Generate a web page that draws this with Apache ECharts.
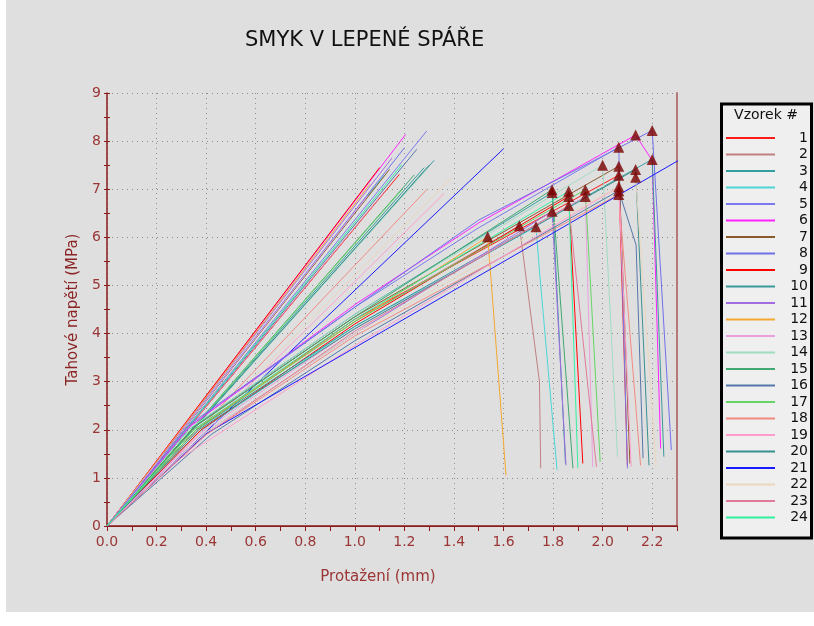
<!DOCTYPE html>
<html>
<head>
<meta charset="utf-8">
<script src="https://cdn.jsdelivr.net/npm/echarts@6/dist/echarts.min.js"></script>
<style>
  html, body { margin: 0; padding: 0; background: #fff; }
  #chart { width: 814px; height: 626px; }
</style>
</head>
<body>
<div id="chart"></div>
<script>
// samples 1..24
const sampleNames = ['1', '2', '3', '4', '5', '6', '7', '8', '9', '10', '11', '12',
  '13', '14', '15', '16', '17', '18', '19', '20', '21', '22', '23', '24'];
const sampleColors = ['#ff1a1a', '#c08080', '#339e9e', '#4cd6d6', '#7a7aee', '#ff22ff',
  '#8b5a2b', '#7070ea', '#ff0000', '#3a9a9a', '#a06ce0', '#f4a830',
  '#e9a0dd', '#a0dcc0', '#40a870', '#5577aa', '#66d466', '#f28a80',
  '#ff9ccc', '#3a8f8f', '#1a1aff', '#ead6bc', '#e07a98', '#33f0a0'];

// steep curves: straight from origin to last point
const steepEndX = [1.18, 1.08, 1.28, 1.12, 1.29, 1.205, 1.14, 1.2, 1.1, 1.32, 1.15, 1.06,
  1.05, 1.29, 1.24, 1.25, 1.19, 1.29, 1.36, 1.3, 1.6, 1.39, 1.12, 1.19];
const steepEndY = [7.31, 7.05, 7.45, 7.3, 8.21, 8.14, 7.41, 7.86, 7.45, 7.6, 7.65, 7.1,
  6.85, 7.41, 7.3, 7.83, 6.99, 6.99, 6.91, 7.5, 7.84, 7.24, 6.95, 7.51];

// shear curves: knee, points at 1.0 / 1.5 mm, top point (peak), optional point after peak, end of drop
const kneeX = [0.36, 0.35, 0.33, 0.37, 0.34, 0.33, 0.35, 0.33, 0.38, 0.36, 0.4, 0.35,
  0.38, 0.34, 0.35, 0.42, 0.36, 0.4, 0.28, 0.37, 0.4, 0.4, 0.4, 0.35];
const kneeY = [2.0, 2.0, 2.0, 1.95, 2.1, 2.05, 2.05, 2.1, 2.0, 2.0, 1.95, 2.0,
  1.95, 2.05, 2.05, 1.9, 2.0, 1.9, 1.35, 2.0, 1.92, 1.95, 1.9, 2.0];
const at10Y = [4.3, 4.25, 4.4, 4.15, 4.55, 4.6, 4.35, 4.55, 4.2, 4.15, 4.0, 4.25,
  4.1, 4.4, 4.35, 3.85, 4.25, 3.95, 3.75, 4.1, null, 4.0, 4.05, 4.3];
const at15Y = [null, null, null, null, 6.2, 6.3, null, 6.36, null, null, null, null,
  null, null, null, null, null, null, null, null, null, null, null, null];
const topX = [2.065, 1.664, 1.796, 1.731, 2.065, 2.133, 2.065, 2.2, 1.863, 2.2, 1.796, 1.536,
  1.93, 2.0, 1.796, 2.065, 1.93, 2.065, 2.065, 2.133, 2.35, 2.133, 1.863, 1.863];
const topY = [7.29, 6.24, 6.93, 6.22, 7.875, 8.125, 7.48, 8.22, 6.85, 7.62, 6.54, 6.01,
  6.85, 7.5, 6.99, 6.97, 6.99, 6.89, 7.05, 7.41, 7.73, 7.25, 6.66, 6.96];
const afterX = [null, 1.745, null, 1.745, null, 2.2, null, null, null, null, null, 1.55,
  null, null, null, 2.135, null, null, null, null, null, null, null, null];
const afterY = [null, 3.0, null, 5.3, null, 7.6, null, null, null, null, null, 5.1,
  null, null, null, 5.84, null, null, null, null, null, null, null, null];
const endX = [2.1, 1.75, 1.85, 1.816, 2.1, 2.234, 2.11, 2.277, 1.92, 2.247, 1.852, 1.61,
  1.96, 2.06, 1.88, 2.163, 1.99, 2.153, 2.115, 2.187, null, 2.216, 1.975, 1.9];
const endY = [1.25, 1.2, 1.3, 1.16, 1.2, 1.61, 1.3, 1.58, 1.3, 1.44, 1.26, 1.05,
  1.23, 1.44, 1.2, 1.41, 1.33, 1.26, 1.23, 1.26, null, 1.23, 1.23, 1.2];

const axisRed = '#8b1a1a';
const labelRed = '#9b3535';

const series = [];
sampleNames.forEach((name, i) => {
  series.push({
    name: name,
    type: 'line',
    symbol: 'none',
    silent: true,
    data: [[0, 0], [steepEndX[i], steepEndY[i]]],
    lineStyle: { width: 1, color: sampleColors[i] },
    itemStyle: { color: sampleColors[i] },
  });
});
sampleNames.forEach((name, i) => {
  const pts = [[0, 0], [kneeX[i], kneeY[i]]];
  if (at10Y[i] !== null) pts.push([1.0, at10Y[i]]);
  if (at15Y[i] !== null) pts.push([1.5, at15Y[i]]);
  pts.push([topX[i], topY[i]]);
  if (afterX[i] !== null) pts.push([afterX[i], afterY[i]]);
  if (endX[i] !== null) pts.push([endX[i], endY[i]]);
  series.push({
    name: name,
    type: 'line',
    symbol: 'none',
    silent: true,
    data: pts,
    lineStyle: { width: 1, color: sampleColors[i] },
    itemStyle: { color: sampleColors[i] },
  });
});

// failure points (only samples that broke inside the plotted range)
const peaks = [];
sampleNames.forEach((name, i) => {
  if (endX[i] !== null) peaks.push([topX[i], topY[i]]);
});
series.push({
  name: 'max',
  type: 'scatter',
  symbol: 'triangle',
  symbolSize: 11,
  silent: true,
  z: 10,
  data: peaks,
  itemStyle: { color: '#7a0000' },
});

const chart = echarts.init(document.getElementById('chart'));
chart.setOption({
  animation: false,
  backgroundColor: '#ffffff',
  textStyle: { fontFamily: 'DejaVu Sans' },
  title: {
    text: 'SMYK V LEPENÉ SPÁŘE',
    left: 240,
    top: 25,
    textStyle: { fontSize: 21, fontWeight: 'normal', color: '#111', fontFamily: 'DejaVu Sans' },
  },
  grid: { left: 107, right: 137, top: 93, bottom: 100 },
  legend: {
    data: sampleNames,
    orient: 'vertical',
    left: 726,
    top: 131,
    padding: 0,
    icon: 'rect',
    itemWidth: 49,
    itemHeight: 2,
    itemGap: 2.5,
    selectedMode: false,
    formatter: (n) => '{n|' + n + '}',
    textStyle: {
      color: '#111',
      fontSize: 14,
      rich: { n: { width: 28, align: 'right', fontSize: 14, color: '#111' } },
    },
  },
  graphic: [
    { type: 'rect', z: -100, silent: true, shape: { x: 6, y: 0, width: 808, height: 612 }, style: { fill: '#dfdfdf' } },
    { type: 'rect', z: 1, silent: true, shape: { x: 721.5, y: 104, width: 90, height: 434 },
      style: { fill: '#efefef', stroke: '#000', lineWidth: 3 } },
    { type: 'text', z: 2, silent: true, x: 766, y: 115,
      style: { text: 'Vzorek #', fill: '#111', font: '14px DejaVu Sans', align: 'center', verticalAlign: 'middle' } },
  ],
  xAxis: [
    {
      type: 'value', min: 0, max: 2.3, interval: 0.2,
      name: 'Protažení (mm)', nameLocation: 'middle', nameGap: 44,
      nameTextStyle: { color: labelRed, fontSize: 15, padding: [0, 28, 0, 0] },
      axisLine: { show: true, lineStyle: { color: axisRed, width: 1.5 } },
      axisTick: { show: true, length: 5, lineStyle: { color: axisRed } },
      minorTick: { show: true, splitNumber: 2, length: 5, lineStyle: { color: axisRed } },
      splitLine: { show: true, lineStyle: { color: '#8c8c8c', type: [1, 4] } },
      axisLabel: { color: labelRed, fontSize: 14, margin: 9,
        formatter: (v) => (v > 2.25 ? '' : v.toFixed(1)) },
    },
    {
      type: 'value', position: 'top', min: 0, max: 2.3,
      axisLine: { show: true, lineStyle: { color: axisRed, width: 1 } },
      axisTick: { show: false }, axisLabel: { show: false }, splitLine: { show: false },
    },
  ],
  yAxis: [
    {
      type: 'value', min: 0, max: 9, interval: 1,
      name: 'Tahové napětí (MPa)', nameLocation: 'middle', nameGap: 26,
      nameTextStyle: { color: '#8b2525', fontSize: 15 },
      axisLine: { show: true, lineStyle: { color: axisRed, width: 1.5 } },
      axisTick: { show: true, length: 3, lineStyle: { color: axisRed } },
      minorTick: { show: true, splitNumber: 2, length: 3, lineStyle: { color: axisRed } },
      splitLine: { show: true, lineStyle: { color: '#8c8c8c', type: [1, 4] } },
      axisLabel: { color: labelRed, fontSize: 14, margin: 6 },
    },
    {
      type: 'value', min: 0, max: 9, interval: 1, position: 'left',
      axisLine: { show: false },
      axisTick: { show: true, inside: true, length: 3, lineStyle: { color: axisRed } },
      minorTick: { show: true, splitNumber: 2, length: 3, lineStyle: { color: axisRed } },
      axisLabel: { show: false }, splitLine: { show: false },
    },
    {
      type: 'value', min: 0, max: 9, position: 'right',
      axisLine: { show: true, lineStyle: { color: '#b57777', width: 2 } },
      axisTick: { show: false }, axisLabel: { show: false }, splitLine: { show: false },
    },
  ],
  series: series,
});
</script>
</body>
</html>
